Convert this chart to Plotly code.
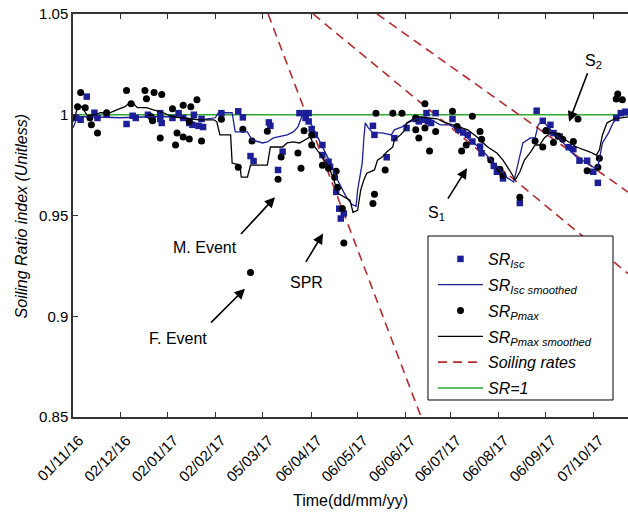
import pandas as pd
import plotly.graph_objects as go

# ---- data: day offsets from 01/11/2016 and soiling ratio values ----
START = pd.Timestamp("2016-11-01")

isc_day = [2, 5, 9, 14, 16, 22, 35, 39, 41, 49, 52, 57, 58, 57, 65, 69, 72, 76, 79, 82, 85, 78, 84,
           97, 108, 111, 128, 129, 116, 118, 137, 134,
           148, 152, 154, 152, 154, 156, 158, 163, 163, 167, 168, 172, 174, 177, 175,
           196, 197, 210, 205, 218, 224, 226, 229, 231, 232, 234, 237,
           248, 252, 255, 258, 261, 266, 267, 275, 277, 281, 292,
           303, 307, 312, 310, 314, 318, 324, 327, 331, 336, 340, 343, 355, 358, 361]
isc_sr = [0.9985, 0.9975, 1.009, 1.001, 0.9984, 1.0, 0.9954, 0.9995, 0.9984, 1.0, 0.9979, 0.9979,
          0.9959, 1.0008, 0.9984, 1.0008, 0.9984, 0.9959, 1.0, 0.9945, 0.9939, 0.995, 0.9979,
          1.0008, 1.0017, 0.9987, 0.9962, 0.9945, 0.9795, 0.977, 0.9817, 0.9726,
          1.0008, 1.0008, 1.0008, 0.9984, 0.9967, 0.9929, 0.990, 0.985, 0.980, 0.9767, 0.9742,
          0.9617, 0.9534, 0.951, 0.9485,
          0.9945, 0.990, 0.9884, 0.9789, 0.9934, 0.9979, 0.9967, 0.9975, 1.0008, 0.9967, 0.9959,
          1.0008,
          0.9979, 0.9925, 0.9912, 0.990, 0.9867, 0.9842, 0.9809, 0.9746, 0.9717, 0.9684, 0.9562,
          1.002, 0.997, 0.995, 0.9922, 0.9909, 0.9892, 0.9839, 0.9829, 0.9772, 0.9772, 0.9717,
          0.9662, 0.9984, 1.0008, 1.0015]

pmax_day = [5, 3, 8, 11, 12, 16, 22, 35, 38, 47, 53, 58, 48, 51, 52, 57, 65, 72, 77, 81, 68, 72,
            76, 67, 84, 76, 97, 111, 117, 127, 108, 134, 136, 147, 149, 151, 116,
            156, 156, 163, 167, 172, 171, 173, 176, 177, 197, 196, 204, 198, 209, 215,
            224, 230, 224, 226, 230, 237, 233, 248, 261, 251, 254, 257, 266, 267, 273, 279,
            281, 292, 302, 307, 309, 314, 317, 320, 327, 330, 336, 344, 343, 356, 355, 359]
pmax_sr = [1.011, 1.004, 1.0035, 0.9985, 0.995, 0.991, 1.001, 1.012, 1.0055, 1.012, 1.011, 1.010,
           1.008, 0.999, 0.997, 0.9885, 1.003, 1.0047, 1.004, 1.0075, 0.991, 0.989, 0.988, 0.985,
           0.987, 0.9967, 0.9978, 0.9928, 0.987, 0.9918, 0.974, 0.968, 0.979, 0.981, 0.9734,
           0.992, 0.9217,
           0.990, 0.985, 0.975, 0.9734, 0.972, 0.969, 0.964, 0.9535, 0.9363, 0.9606, 0.956,
           0.9726, 1.0008, 1.0008, 1.0008,
           0.9984, 1.0055, 0.9925, 0.9884, 0.9934, 0.9917, 0.982, 1.0017, 0.9992, 0.9942, 0.982,
           0.985, 0.9917, 0.9879, 0.9775, 0.9729, 0.970, 0.9591, 0.987, 0.984, 0.992, 0.9862,
           0.9895, 0.9879, 0.9867, 0.9979, 0.9722, 0.9784, 0.9739, 1.0103, 1.0078, 1.0075]

isc_smooth_day = [0, 3, 11, 31, 50, 67, 83, 93, 95, 104, 106, 114, 117, 124, 127, 131, 140, 144,
                  147, 150, 152, 155, 158, 163, 168, 173, 178, 182, 185, 186, 189, 190, 191, 193,
                  196, 202, 208, 210, 215, 220, 227, 233, 240, 246, 252, 256, 259, 266, 273, 279,
                  284, 288, 290, 294, 299, 302, 304, 307, 312, 318, 323, 329, 336, 341, 343, 346,
                  350, 353, 356, 359, 363]
isc_smooth_sr = [0.9935, 0.999, 0.999, 0.9985, 0.999, 0.999, 0.9975, 0.9985, 1.001, 1.001, 0.9915,
                 0.9915, 0.9875, 0.986, 0.9865, 0.9885, 0.990, 0.9915, 0.994, 1.0, 1.001, 0.9965,
                 0.9915, 0.984, 0.9765, 0.9675, 0.960, 0.9556, 0.9546, 0.9626, 0.976, 0.9875,
                 0.996, 0.9935, 0.991, 0.991, 0.990, 0.9925, 0.994, 0.9965, 0.9985, 0.998, 0.995,
                 0.995, 0.9925, 0.990, 0.9875, 0.9835, 0.9775, 0.9726, 0.9686, 0.9666, 0.9726,
                 0.986, 0.9885, 0.9885, 0.995, 0.997, 0.9925, 0.9885, 0.9835, 0.979, 0.976,
                 0.9735, 0.974, 0.986, 0.991, 0.996, 0.999, 1.0, 1.0]

pmax_smooth_day = [0, 3, 5, 10, 18, 24, 29, 34, 37, 39, 42, 48, 52, 59, 65, 75, 83, 92, 94, 96,
                   103, 104, 109, 110, 114, 116, 127, 129, 137, 140, 144, 148, 152, 155, 158, 163,
                   167, 170, 173, 178, 181, 183, 186, 188, 190, 192, 197, 199, 202, 205, 209, 210,
                   214, 217, 218, 225, 233, 238, 242, 248, 252, 258, 264, 271, 277, 281, 286, 289,
                   292, 295, 299, 302, 305, 308, 312, 315, 322, 329, 338, 342, 344, 346, 349, 354,
                   363]
pmax_smooth_sr = [0.9965, 1.0035, 1.0045, 0.999, 1.001, 1.001, 1.0025, 1.004, 1.006, 1.006,
                  1.0035, 1.0035, 1.0025, 1.001, 0.999, 0.998, 0.9975, 0.9975, 0.9965, 0.990,
                  0.990, 0.976, 0.975, 0.969, 0.969, 0.975, 0.975, 0.984, 0.984, 0.986, 0.9865,
                  0.986, 0.9875, 0.989, 0.984, 0.979, 0.974, 0.969, 0.961, 0.9586, 0.9576, 0.9516,
                  0.9526, 0.9626, 0.9675, 0.971, 0.9726, 0.9775, 0.979, 0.9815, 0.984, 0.9875,
                  0.990, 0.9925, 0.996, 0.999, 0.9985, 0.998, 0.9965, 0.995, 0.994, 0.9925, 0.989,
                  0.984, 0.981, 0.9775, 0.9716, 0.9676, 0.9716, 0.9775, 0.9815, 0.985, 0.985,
                  0.9885, 0.991, 0.991, 0.9875, 0.984, 0.9815, 0.980, 0.9825, 0.990, 0.996, 0.998,
                  0.999]

# soiling-rate trend lines: (start day, start SR) -> (end day, end SR)
rate_start_day = [127.5, 156.9, 198.7]
rate_start_sr = [1.05, 1.05, 1.05]
rate_end_day = [227.5, 362.7, 362.7]
rate_end_sr = [0.85, 0.9212, 0.9616]

tick_dates = ["2016-11-01", "2016-12-02", "2017-01-02", "2017-02-02", "2017-03-05", "2017-04-06",
              "2017-05-06", "2017-06-06", "2017-07-06", "2017-08-06", "2017-09-06", "2017-10-07"]
tick_labels = ["01/11/16", "02/12/16", "02/01/17", "02/02/17", "05/03/17", "06/04/17",
               "06/05/17", "06/06/17", "06/07/17", "06/08/17", "06/09/17", "07/10/17"]
y_ticks = [0.85, 0.9, 0.95, 1.0, 1.05]
y_labels = ["0.85", "0.9", "0.95", "1", "1.05"]


def to_dates(days):
    return [START + pd.Timedelta(days=d) for d in days]


X_END = START + pd.Timedelta(days=362.7)

BLUE = "#1c1f96"
RED = "#b82a2e"
GREEN = "#2faa2f"
FONT = "Liberation Sans, Arial, sans-serif"

fig = go.Figure()

# SR = 1 reference
fig.add_trace(go.Scatter(
    x=[START, X_END], y=[1.0, 1.0], mode="lines", name="SR=1", legendgroup="g6",
    line=dict(color=GREEN, width=1.5), legendrank=6))

# soiling-rate lines
rx, ry = [], []
for d0, s0, d1, s1 in zip(rate_start_day, rate_start_sr, rate_end_day, rate_end_sr):
    rx += to_dates([d0, d1]) + [None]
    ry += [s0, s1, None]
fig.add_trace(go.Scatter(
    x=rx, y=ry, mode="lines", name="Soiling rates", legendgroup="g5",
    line=dict(color=RED, width=1.6, dash="9px,6px"), legendrank=5))

fig.add_trace(go.Scatter(
    x=to_dates(isc_day), y=isc_sr, mode="markers", name="SR<sub>Isc</sub>", legendgroup="g1",
    marker=dict(symbol="square", size=6.5, color=BLUE), legendrank=1))
fig.add_trace(go.Scatter(
    x=to_dates(pmax_day), y=pmax_sr, mode="markers", name="SR<sub>Pmax</sub>", legendgroup="g3",
    marker=dict(symbol="circle", size=7, color="black"), legendrank=3))
fig.add_trace(go.Scatter(
    x=to_dates(isc_smooth_day), y=isc_smooth_sr, mode="lines",
    name="SR<sub>Isc smoothed</sub>", legendgroup="g2",
    line=dict(color=BLUE, width=1.3), legendrank=2))
fig.add_trace(go.Scatter(
    x=to_dates(pmax_smooth_day), y=pmax_smooth_sr, mode="lines",
    name="SR<sub>Pmax smoothed</sub>", legendgroup="g4",
    line=dict(color="black", width=1.3), legendrank=4))

# event labels and arrows
labels = [
    ("M. Event", 86.3, 0.9341),
    ("F. Event", 68.6, 0.8892),
    ("SPR", 152.3, 0.9167),
    ("S<sub>1</sub>", 237.3, 0.9511),
    ("S<sub>2</sub>", 339.9, 1.0264),
]
for text, d, v in labels:
    fig.add_annotation(x=START + pd.Timedelta(days=d), y=v, text=text, showarrow=False,
                       font=dict(family=FONT, size=16, color="black"))

arrows = [
    (132.0, 0.9591, -35, 38),
    (112.4, 0.9137, -35, 35),
    (163.4, 0.9411, -18, 30),
    (257.5, 0.9735, -20, 32),
    (324.2, 0.9965, 19, -50),
]
for d, v, ax, ay in arrows:
    fig.add_annotation(x=START + pd.Timedelta(days=d), y=v, text=" ", showarrow=True,
                       font=dict(size=2), borderpad=0,
                       ax=ax, ay=ay, arrowhead=2, arrowsize=1.3, arrowwidth=1.6,
                       arrowcolor="black")

# axis titles
fig.add_annotation(xref="paper", yref="paper", x=-0.092, y=0.5, text="Soiling Ratio index (Unitless)",
                   textangle=-90, showarrow=False, xanchor="center", yanchor="middle",
                   font=dict(family=FONT, size=16, color="black", style="italic"))
fig.add_annotation(xref="paper", yref="paper", x=0.5, y=-0.206, text="Time(dd/mm/yy)",
                   showarrow=False, xanchor="center", yanchor="middle",
                   font=dict(family=FONT, size=16, color="black"))

# framed white panel behind the legend entries
fig.add_shape(type="rect", xref="paper", yref="paper",
              x0=0.6396, x1=0.973, y0=0.0422, y1=0.4491,
              line=dict(color="black", width=1), fillcolor="white", layer="above")

fig.update_layout(
    width=628, height=514, autosize=False,
    margin=dict(l=73, r=0, t=14, b=97),
    paper_bgcolor="white", plot_bgcolor="white",
    font=dict(family=FONT, color="black"),
    showlegend=True,
    legend=dict(x=0.6486, y=0.0298, xanchor="left", yanchor="bottom",
                bgcolor="rgba(0,0,0,0)", borderwidth=0,
                font=dict(family=FONT, size=16, color="black", style="italic"),
                itemwidth=45, tracegroupgap=2),
)
fig.update_xaxes(
    type="date", range=[START, X_END],
    tickmode="array", tickvals=tick_dates, ticktext=tick_labels, tickangle=-45,
    tickfont=dict(family=FONT, size=15, color="black"),
    ticklabelshift=6, ticklabelstandoff=7,
    ticks="inside", ticklen=5, tickwidth=1.3, tickcolor="#333",
    showline=True, linecolor="#333", linewidth=1.5, mirror="ticks",
    showgrid=False, zeroline=False)
fig.update_yaxes(
    range=[0.85, 1.05], tickmode="array", tickvals=y_ticks, ticktext=y_labels,
    tickfont=dict(family=FONT, size=15, color="black"),
    ticks="inside", ticklen=5, tickwidth=1.3, tickcolor="#333",
    showline=True, linecolor="#333", linewidth=1.5,
    showgrid=False, zeroline=False)

fig.write_html("out.html")
